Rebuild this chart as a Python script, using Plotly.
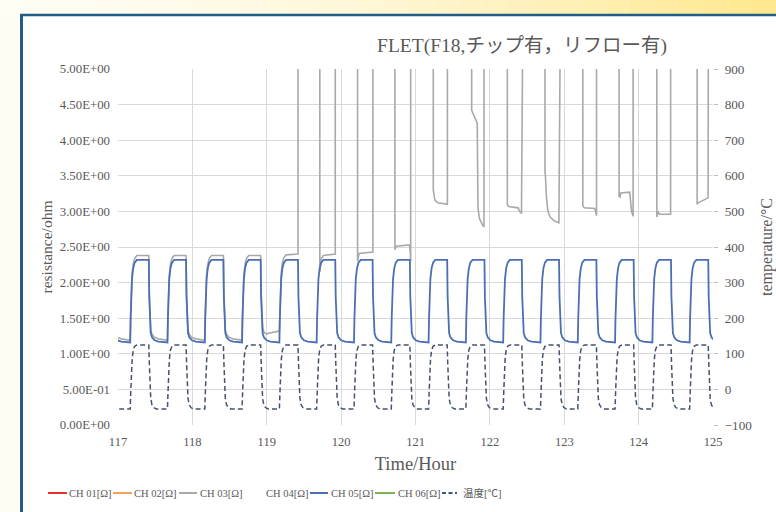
import plotly.graph_objects as go

# ---------------- data ----------------
# start time (hours) of each heating step (resistance / temperature rise)
cycle_start = [116.663, 117.164, 117.665, 118.167, 118.668, 119.170, 119.671, 120.173,
               120.674, 121.176, 121.677, 122.179, 122.680, 123.182, 123.683, 124.185, 124.686]

# temperature profile of one cycle: offset from cycle start [h] and value [°C]
temp_dt = [0.000, 0.008, 0.016, 0.026, 0.040, 0.060, 0.090, 0.250, 0.258, 0.266, 0.276, 0.292, 0.315, 0.350]
temp_val = [-55, -5, 45, 85, 110, 121, 125, 125, 70, 10, -25, -43, -51, -55]

# CH05 resistance in one cycle [ohm]
ch05_dt = [0.000, 0.006, 0.014, 0.024, 0.040, 0.060, 0.090, 0.250, 0.256, 0.264, 0.276, 0.295, 0.330, 0.380, 0.480]
ch05_val = [1.16, 1.50, 1.85, 2.05, 2.20, 2.28, 2.32, 2.32, 1.80, 1.42, 1.29, 1.23, 1.19, 1.17, 1.16]

# CH03 resistance in the cycles before the failure [ohm]
ch03_dt = [0.000, 0.006, 0.014, 0.024, 0.040, 0.060, 0.090, 0.250, 0.256, 0.264, 0.276, 0.295, 0.330, 0.380, 0.480]
ch03_val = [1.19, 1.53, 1.90, 2.10, 2.26, 2.34, 2.38, 2.38, 1.86, 1.47, 1.33, 1.27, 1.23, 1.21, 1.19]
ch03_normal_cycles = 4   # full normal cycles, the 5th one is normal up to its cooling step

OPEN = 50.0  # open circuit, beyond the axis
ch03_tail = [
    (118.925, 1.86), (118.934, 1.50), (118.946, 1.36), (118.965, 1.30), (118.990, 1.28), (119.170, 1.32),
    (119.176, 1.55), (119.184, 1.92), (119.194, 2.12), (119.210, 2.28), (119.230, 2.35), (119.260, 2.39),
    (119.420, 2.40), (119.422, OPEN),
    (119.710, OPEN), (119.714, 2.15), (119.730, 2.33), (119.760, 2.38), (119.921, 2.40), (119.923, OPEN),
    (120.217, OPEN), (120.221, 2.30), (120.240, 2.41), (120.427, 2.43), (120.429, OPEN),
    (120.719, OPEN), (120.723, 2.46), (120.740, 2.51), (120.920, 2.53), (120.930, 2.42), (120.935, 2.30),
    (120.937, OPEN),
    (121.235, OPEN), (121.239, 3.30), (121.260, 3.16), (121.300, 3.12), (121.429, 3.10), (121.431, OPEN),
    (121.752, OPEN), (121.755, 4.42), (121.780, 4.36), (121.830, 4.24), (121.840, 3.05), (121.860, 2.90),
    (121.900, 2.81), (121.921, 2.78), (121.923, OPEN),
    (122.231, OPEN), (122.235, 3.10), (122.250, 3.07), (122.380, 3.05), (122.400, 3.00), (122.425, 2.97),
    (122.427, OPEN),
    (122.738, OPEN), (122.741, 3.56), (122.748, 3.48), (122.760, 3.20), (122.780, 3.00), (122.810, 2.92),
    (122.860, 2.87), (122.928, 2.84), (122.930, OPEN),
    (123.246, OPEN), (123.250, 3.08), (123.270, 3.05), (123.410, 3.04), (123.425, 2.96), (123.434, 2.94),
    (123.436, OPEN),
    (123.734, OPEN), (123.737, 3.21), (123.750, 3.20), (123.760, 3.26), (123.880, 3.27), (123.905, 3.00),
    (123.926, 2.93), (123.928, OPEN),
    (124.242, OPEN), (124.245, 2.92), (124.260, 3.00), (124.280, 2.96), (124.430, 2.96), (124.432, OPEN),
    (124.784, OPEN), (124.787, 3.10), (124.800, 3.12), (124.934, 3.19), (124.936, OPEN), (125.000, OPEN),
]

y_tick_vals = [0.0, 0.5, 1.0, 1.5, 2.0, 2.5, 3.0, 3.5, 4.0, 4.5, 5.0]
y_tick_text = ["0.00E+00", "5.00E-01", "1.00E+00", "1.50E+00", "2.00E+00", "2.50E+00",
               "3.00E+00", "3.50E+00", "4.00E+00", "4.50E+00", "5.00E+00"]
x_tick_vals = [117, 118, 119, 120, 121, 122, 123, 124, 125]

series_names = ["CH 01[Ω]", "CH 02[Ω]", "CH 03[Ω]", "CH 04[Ω]", "CH 05[Ω]", "CH 06[Ω]", "温度[℃]"]
series_colors = ["#E8312A", "#F2A35E", "#A9A9A9", "rgba(255,255,255,0)", "#4A6FB5", "#7DB356", "#44546A"]

# ---------------- build series ----------------
def repeat(starts, dts, vals):
    xs, ys = [], []
    for s in starts:
        for d, v in zip(dts, vals):
            xs.append(round(s + d, 4))
            ys.append(v)
    return xs, ys

t_temp, v_temp = repeat(cycle_start, temp_dt, temp_val)
t_ch05, v_ch05 = repeat(cycle_start, ch05_dt, ch05_val)

t_ch03, v_ch03 = repeat(cycle_start[:ch03_normal_cycles], ch03_dt, ch03_val)
for d, v in zip(ch03_dt, ch03_val):
    if d <= 0.25:
        t_ch03.append(round(cycle_start[ch03_normal_cycles] + d, 4))
        v_ch03.append(v)
t_ch03 += [p[0] for p in ch03_tail]
v_ch03 += [p[1] for p in ch03_tail]

series_x = [[None], [None], t_ch03, [None], t_ch05, [None], t_temp]
series_y = [[None], [None], v_ch03, [None], v_ch05, [None], v_temp]

# ---------------- figure ----------------
FONT = "Liberation Serif, Times New Roman, Noto Sans CJK JP, serif"
TXT = "#595959"
WIDTH, HEIGHT = 776, 512
L, R, T, B = 118, 63, 69, 87
W, H = WIDTH - L - R, HEIGHT - T - B

def fx(px):
    return (px - L) / W

def fy(py):
    return (HEIGHT - B - py) / H

fig = go.Figure()
widths = [2, 2, 1.6, 2, 1.8, 2, 1.5]
for i, name in enumerate(series_names):
    is_temp = i == len(series_names) - 1
    fig.add_trace(go.Scatter(
        x=series_x[i], y=series_y[i], mode="lines", name=name,
        yaxis="y2" if is_temp else "y",
        line=dict(color=series_colors[i], width=widths[i], dash="5px,3px" if is_temp else "solid"),
        showlegend=False))

shapes = []
annotations = []
# slide-like frame: gradient band on top, cream strip left, blue border, white card
n = 32
for i in range(n):
    f = (i + 0.5) / n
    g = f ** 1.6
    r_, g_, b_ = 255, round(253 - 22 * g), round(244 - 104 * g)
    shapes.append(dict(type="rect", xref="paper", yref="paper", layer="below",
                       x0=fx(WIDTH * i / n - 1), x1=fx(WIDTH * (i + 1) / n + 1),
                       y0=fy(14), y1=fy(-2), fillcolor=f"rgb({r_},{g_},{b_})", line=dict(width=0)))
shapes.append(dict(type="rect", xref="paper", yref="paper", layer="below",
                   x0=fx(20), x1=fx(790), y0=fy(520), y1=fy(14),
                   fillcolor="white", line=dict(width=0)))
shapes.append(dict(type="line", xref="paper", yref="paper", layer="below",
                   x0=fx(21.5), x1=fx(21.5), y0=fy(14), y1=fy(520),
                   line=dict(color="#1F5E88", width=3)))
shapes.append(dict(type="line", xref="paper", yref="paper", layer="below",
                   x0=fx(20), x1=fx(790), y0=fy(15), y1=fy(15),
                   line=dict(color="#1F5E88", width=2.5)))

# legend row (drawn as in the original, compact Excel style)
leg_line_x = [(48, 67), (113, 132), (179, 197), (245, 263), (310, 328), (375, 395), (442, 457)]
leg_text_x = [68, 133, 199, 265, 330, 397, 462]
LEG_Y = 493
for i, name in enumerate(series_names):
    is_temp = i == len(series_names) - 1
    if i != 3:
        shapes.append(dict(type="line", xref="paper", yref="paper",
                           x0=fx(leg_line_x[i][0]), x1=fx(leg_line_x[i][1]),
                           y0=fy(LEG_Y), y1=fy(LEG_Y),
                           line=dict(color=series_colors[i], width=2,
                                     dash="4px,2.5px" if is_temp else "solid")))
    annotations.append(dict(text=name, xref="paper", yref="paper", x=fx(leg_text_x[i]),
                            y=fy(LEG_Y), xanchor="left", yanchor="middle", showarrow=False,
                            font=dict(size=10.5, color=TXT, family=FONT), xshift=-1))

fig.update_layout(
    width=WIDTH, height=HEIGHT,
    margin=dict(l=L, r=R, t=T, b=B, autoexpand=False),
    paper_bgcolor="#FFFDF2", plot_bgcolor="white",
    font=dict(family=FONT, color=TXT),
    title=dict(text="FLET(F18,チップ有，リフロー有)", font=dict(family=FONT, size=19.5, color=TXT),
               xref="paper", x=fx(522), xanchor="center",
               yref="container", y=1 - 45 / HEIGHT, yanchor="middle"),
    xaxis=dict(range=[117, 125], tickvals=x_tick_vals, showgrid=True, gridcolor="#D9D9D9",
               gridwidth=1, zeroline=False, showline=False, ticks="",
               tickfont=dict(size=12.5, color=TXT), ticklabelstandoff=7,
               title=dict(text="Time/Hour", font=dict(size=18.5, color=TXT), standoff=9)),
    yaxis=dict(range=[0, 5], tickvals=y_tick_vals, ticktext=y_tick_text, showgrid=True,
               gridcolor="#D9D9D9", gridwidth=1, zeroline=False, showline=False, ticks="",
               tickfont=dict(size=12.8, color=TXT), ticklabelstandoff=7,
               title=dict(text="resistance/ohm", font=dict(size=15.5, color=TXT), standoff=3)),
    yaxis2=dict(range=[-100, 900], dtick=100, overlaying="y", side="right", showgrid=False,
                zeroline=False, showline=False, ticks="outside", ticklen=4, tickcolor="#BFBFBF",
                tickfont=dict(size=13.2, color=TXT), ticklabelstandoff=4,
                title=dict(text="temperature/°C", font=dict(size=16, color=TXT), standoff=9)),
    shapes=shapes,
    annotations=annotations,
    showlegend=False,
)

fig.write_html("out.html", config={"displayModeBar": False},
               post_script="document.body.style.margin='0px';")
